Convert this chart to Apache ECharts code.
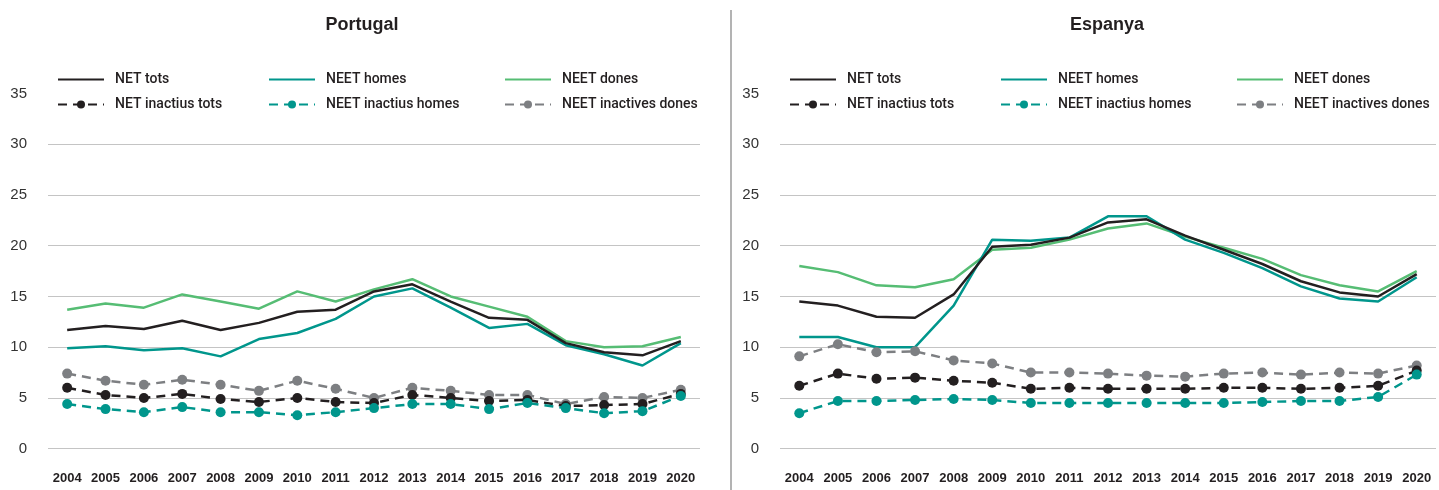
<!DOCTYPE html>
<html>
<head>
<meta charset="utf-8">
<script src="https://cdn.jsdelivr.net/npm/echarts@6/dist/echarts.min.js"></script>
<style>
html,body{margin:0;padding:0;background:#fff;}
#chart{width:1439px;height:490px;}
</style>
</head>
<body>
<div id="chart"></div>
<script>
const years = ['2004','2005','2006','2007','2008','2009','2010','2011','2012','2013','2014','2015','2016','2017','2018','2019','2020'];
const yTicks = [0, 5, 10, 15, 20, 25, 30, 35];

// Portugal
const ptNetTots          = [11.7,12.1,11.8,12.6,11.7,12.4,13.5,13.7,15.5,16.2,14.5,12.9,12.7,10.4,9.5,9.2,10.6];
const ptNeetHomes        = [9.9,10.1,9.7,9.9,9.1,10.8,11.4,12.8,15.0,15.8,13.9,11.9,12.3,10.2,9.3,8.2,10.4];
const ptNeetDones        = [13.7,14.3,13.9,15.2,14.5,13.8,15.5,14.5,15.7,16.7,15.0,14.0,13.0,10.6,10.0,10.1,11.0];
const ptNetInactTots     = [6.0,5.3,5.0,5.4,4.9,4.6,5.0,4.6,4.5,5.3,5.0,4.7,4.8,4.2,4.3,4.4,5.4];
const ptNeetInactHomes   = [4.4,3.9,3.6,4.1,3.6,3.6,3.3,3.6,4.0,4.4,4.4,3.9,4.5,4.0,3.5,3.7,5.2];
const ptNeetInactDones   = [7.4,6.7,6.3,6.8,6.3,5.7,6.7,5.9,5.0,6.0,5.7,5.3,5.3,4.4,5.1,5.0,5.8];

// Espanya
const esNetTots          = [14.5,14.1,13.0,12.9,15.2,19.9,20.1,20.8,22.3,22.6,21.0,19.6,18.2,16.5,15.4,15.0,17.2];
const esNeetHomes        = [11.0,11.0,10.0,10.0,14.1,20.6,20.5,20.8,22.9,22.9,20.6,19.3,17.8,16.0,14.8,14.5,16.9];
const esNeetDones        = [18.0,17.4,16.1,15.9,16.7,19.6,19.8,20.6,21.7,22.2,20.9,19.8,18.7,17.1,16.1,15.5,17.5];
const esNetInactTots     = [6.2,7.4,6.9,7.0,6.7,6.5,5.9,6.0,5.9,5.9,5.9,6.0,6.0,5.9,6.0,6.2,7.7];
const esNeetInactHomes   = [3.5,4.7,4.7,4.8,4.9,4.8,4.5,4.5,4.5,4.5,4.5,4.5,4.6,4.7,4.7,5.1,7.3];
const esNeetInactDones   = [9.1,10.3,9.5,9.6,8.7,8.4,7.5,7.5,7.4,7.2,7.1,7.4,7.5,7.3,7.5,7.4,8.2];

const names = ['NET tots','NEET homes','NEET dones','NET inactius tots','NEET inactius homes','NEET inactives dones'];

const BLACK = '#231f20', TEAL = '#00968c', GREEN = '#56bd74', GRAY = '#7d7f82';
const LEG_FONT = 'Roboto,"Liberation Sans",Arial,sans-serif';
const AX_FONT = '"Liberation Sans",Arial,Helvetica,sans-serif';

function solid(name, data, color, idx, z) {
  return {
    name, type: 'line', data, xAxisIndex: idx, yAxisIndex: idx,
    symbol: 'none', z,
    lineStyle: { color, width: 2.5 },
    itemStyle: { color },
    emphasis: { disabled: true }, animation: false
  };
}
function dashed(name, data, color, idx, z) {
  return {
    name, type: 'line', data, xAxisIndex: idx, yAxisIndex: idx,
    symbol: 'circle', symbolSize: 10, showSymbol: true, z,
    lineStyle: { color, width: 2.5, type: [9, 6] },
    itemStyle: { color },
    emphasis: { disabled: true }, animation: false
  };
}

function legends(offset) {
  const cols = [[57, 0], [268, 1], [504, 2]];
  return cols.map(([x, i]) => ({
    left: x + offset, top: 71.5, orient: 'vertical', padding: 0,
    itemWidth: 46, itemHeight: 10, itemGap: 9,
    data: [
      { name: names[i], itemStyle: { opacity: 0 } },
      { name: names[i + 3] }
    ],
    selectedMode: false,
    textStyle: { fontFamily: LEG_FONT, fontSize: 14, fontWeight: 500, color: '#231f20', lineHeight: 16, padding: [0, 0, 0, 6] }
  }));
}

function xAxis(idx) {
  return {
    type: 'category', gridIndex: idx, data: years, boundaryGap: true,
    axisLine: { show: false }, axisTick: { show: false },
    axisLabel: { interval: 0, margin: 23, fontFamily: AX_FONT, fontWeight: 'bold', fontSize: 13, color: '#231f20' }
  };
}
function yAxis(idx) {
  return {
    type: 'value', gridIndex: idx, min: yTicks[0], max: yTicks[yTicks.length - 1], interval: 5,
    axisLine: { show: false }, axisTick: { show: false },
    axisLabel: { margin: 21, fontFamily: AX_FONT, fontSize: 15, color: '#333', padding: [3, 0, 0, 0] },
    splitLine: { show: true, showMaxLine: false, lineStyle: { color: '#c4c4c4', width: 1.2 } }
  };
}

const chart = echarts.init(document.getElementById('chart'), null, { renderer: 'canvas' });
chart.setOption({
  backgroundColor: '#fff',
  animation: false,
  title: [
    { text: 'Portugal', left: 357, top: 11, textAlign: 'center',
      textStyle: { fontFamily: AX_FONT, fontWeight: 'bold', fontSize: 18, color: '#231f20' } },
    { text: 'Espanya', left: 1102, top: 11, textAlign: 'center',
      textStyle: { fontFamily: AX_FONT, fontWeight: 'bold', fontSize: 18, color: '#231f20' } }
  ],
  legend: legends(0).concat(legends(732)),
  grid: [
    { left: 48, right: 739, top: 93.5, bottom: 41.3, containLabel: false },
    { left: 780, right: 3, top: 93.5, bottom: 41.3, containLabel: false }
  ],
  xAxis: [xAxis(0), xAxis(1)],
  yAxis: [yAxis(0), yAxis(1)],
  graphic: [{
    type: 'line', shape: { x1: 731, y1: 10, x2: 731, y2: 490 },
    style: { stroke: '#b3b3b3', lineWidth: 2 }, silent: true
  }],
  series: [
    solid(names[0], ptNetTots, BLACK, 0, 4),
    solid(names[1], ptNeetHomes, TEAL, 0, 3),
    solid(names[2], ptNeetDones, GREEN, 0, 2),
    dashed(names[3], ptNetInactTots, BLACK, 0, 5),
    dashed(names[4], ptNeetInactHomes, TEAL, 0, 6),
    dashed(names[5], ptNeetInactDones, GRAY, 0, 4),
    solid(names[0], esNetTots, BLACK, 1, 4),
    solid(names[1], esNeetHomes, TEAL, 1, 3),
    solid(names[2], esNeetDones, GREEN, 1, 2),
    dashed(names[3], esNetInactTots, BLACK, 1, 5),
    dashed(names[4], esNeetInactHomes, TEAL, 1, 6),
    dashed(names[5], esNeetInactDones, GRAY, 1, 4)
  ]
});
</script>
</body>
</html>
